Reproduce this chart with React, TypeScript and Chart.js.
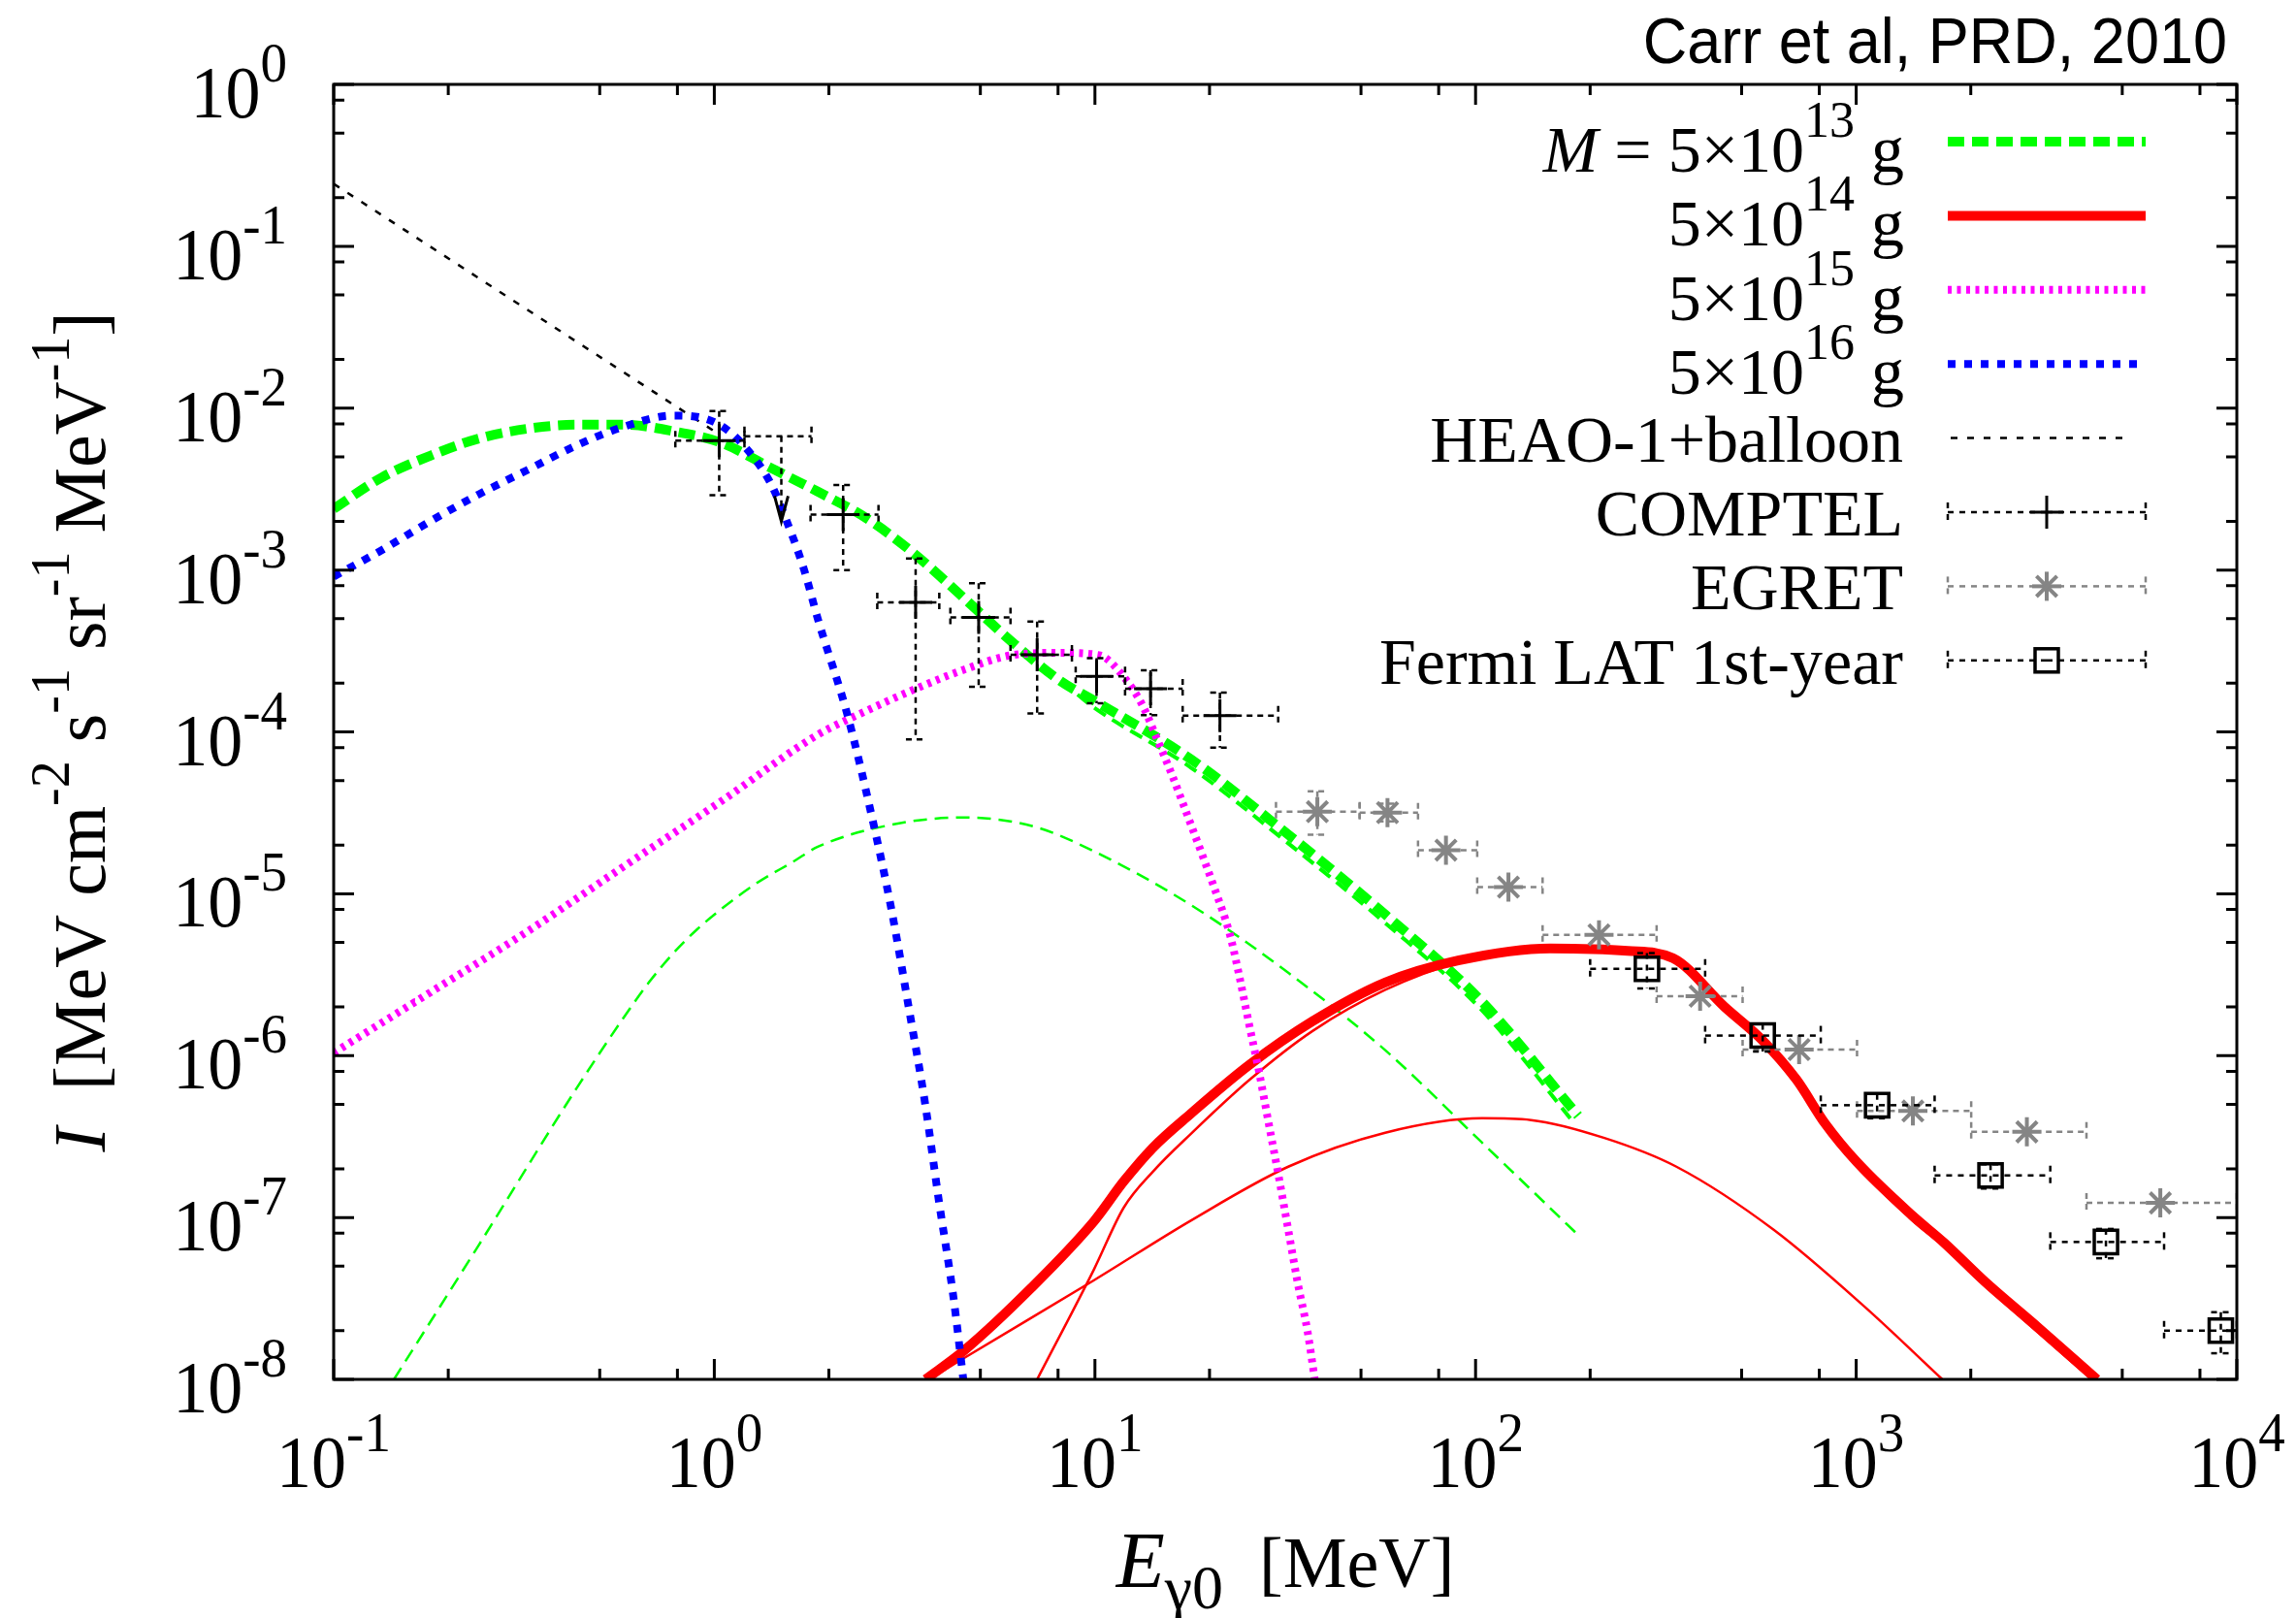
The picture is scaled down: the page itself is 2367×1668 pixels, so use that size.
import React, { useEffect, useRef } from "react";
import { Chart, registerables } from "chart.js";

Chart.register(...registerables);

const CANVAS_W = 2367;
const CANVAS_H = 1668;

// ---------------- axes ----------------
const xDecades = [0.1, 1, 10, 100, 1000, 10000];
const xExponents = ["-1", "0", "1", "2", "3", "4"];
const yDecades = [1, 1e-1, 1e-2, 1e-3, 1e-4, 1e-5, 1e-6, 1e-7, 1e-8];
const yExponents = ["0", "-1", "-2", "-3", "-4", "-5", "-6", "-7", "-8"];
const minorMantissas = [2, 5, 8];

// ---------------- model curves (E in MeV, I) ----------------
const heaoE = [0.1, 1.0];
const heaoI = [0.243, 0.0072];

// M = 5e13 g, total (thick green dashed)
const m13TotalE = [0.1, 0.134, 0.18, 0.241, 0.323, 0.433, 0.58, 0.78, 1.05, 1.4, 1.87, 2.51, 3.38, 4.53, 6.06, 8.1, 10, 17.9, 32.2, 57.9, 104, 186];
const m13TotalI = [2.39e-3, 3.74e-3, 5.1e-3, 6.5e-3, 7.46e-3, 7.9e-3, 7.9e-3, 7.2e-3, 6.07e-3, 4.3e-3, 3.05e-3, 2.09e-3, 1.24e-3, 6.7e-4, 3.59e-4, 2.07e-4, 1.55e-4, 6.76e-5, 2.32e-5, 7.44e-6, 2.15e-6, 4.25e-7];
// companion of the thick green curve
const m13TwinE = [9, 10, 17.9, 32.2, 57.9, 104, 182];
const m13TwinI = [1.7e-4, 1.4e-4, 6.0e-5, 2.05e-5, 6.6e-6, 1.9e-6, 3.8e-7];
// M = 5e13 g, secondary (thin green dashed)
const m13SecE = [0.144, 0.241, 0.433, 0.581, 0.673, 0.78, 0.903, 1.045, 1.29, 1.62, 1.87, 2.92, 4.52, 7.0, 9.98, 17.9, 32.2, 57.9, 104, 186];
const m13SecI = [1e-8, 6.8e-8, 6.2e-7, 1.75e-6, 2.83e-6, 4.29e-6, 6.05e-6, 8.08e-6, 1.16e-5, 1.59e-5, 1.95e-5, 2.67e-5, 2.96e-5, 2.58e-5, 1.82e-5, 8.5e-6, 3.25e-6, 1.08e-6, 2.9e-7, 7.8e-8];

// M = 5e14 g (red)
const m14TotalE = [3.59, 4.52, 6.8, 9.95, 11.9, 14.2, 17.9, 25.5, 37.3, 57.9, 90, 157, 251, 330, 451, 568, 697, 829, 1004, 1403, 1700, 2182, 3000, 4290];
const m14TotalI = [1e-8, 1.5e-8, 3.67e-8, 9.5e-8, 1.67e-7, 2.7e-7, 4.4e-7, 8.8e-7, 1.63e-6, 2.83e-6, 3.87e-6, 4.6e-6, 4.44e-6, 4.0e-6, 2.0e-6, 1.24e-6, 7.1e-7, 3.8e-7, 2.2e-7, 1.03e-7, 7.0e-8, 4.0e-8, 2.1e-8, 1.0e-8];
const m14AltE = [7.05, 9.95, 11.9, 14.2, 17.9, 25.5, 37.3, 57.9, 90, 157, 251, 330, 451, 568, 697, 829, 1004, 1403, 1700, 2182, 3000, 4150];
const m14AltI = [1e-8, 4.8e-8, 1.15e-7, 1.92e-7, 3.3e-7, 7.1e-7, 1.42e-6, 2.55e-6, 3.75e-6, 4.5e-6, 4.38e-6, 3.95e-6, 1.96e-6, 1.2e-6, 6.9e-7, 3.65e-7, 2.1e-7, 9.6e-8, 6.6e-8, 3.8e-8, 1.95e-8, 1.0e-8];
const m14SecE = [3.67, 4.4, 9.95, 17.9, 32.2, 57.9, 104, 140, 218, 337, 607, 1054, 1684];
const m14SecI = [1e-8, 1.3e-8, 4.1e-8, 9.6e-8, 2.06e-7, 3.34e-7, 4.1e-7, 4.0e-7, 3.1e-7, 2.06e-7, 8.4e-8, 2.8e-8, 1e-8];

// M = 5e15 g (magenta)
const m15E = [0.1, 0.18, 0.323, 0.58, 1.05, 1.87, 2.51, 3.37, 4.52, 6.06, 8.1, 10.25, 11.9, 13.35, 14.6, 15.9, 17.4, 19.0, 20.7, 22.6, 24.0, 25.4, 27.0, 28.6, 30.4, 32.2, 34.1, 36.2, 37.8];
const m15I = [1.04e-6, 2.47e-6, 5.85e-6, 1.48e-5, 3.77e-5, 9.6e-5, 1.35e-4, 1.84e-4, 2.42e-4, 2.98e-4, 3.08e-4, 2.98e-4, 2.19e-4, 1.45e-4, 8.9e-5, 5.5e-5, 3.16e-5, 1.82e-5, 1.05e-5, 5.65e-6, 3.03e-6, 1.57e-6, 7.9e-7, 3.83e-7, 1.79e-7, 8.4e-8, 3.94e-8, 1.97e-8, 1e-8];

// M = 5e16 g (blue)
const m16E = [0.1, 0.134, 0.18, 0.241, 0.323, 0.433, 0.58, 0.78, 0.93, 1.05, 1.18, 1.4, 1.55, 1.72, 1.87, 2.24, 2.58, 2.92, 3.24, 3.58, 3.89, 4.25, 4.51];
const m16I = [9.1e-4, 1.33e-3, 2.01e-3, 2.94e-3, 4.15e-3, 5.86e-3, 7.7e-3, 9.0e-3, 8.7e-3, 7.7e-3, 6.07e-3, 3.5e-3, 2.0e-3, 1.01e-3, 5.0e-4, 1.26e-4, 3.17e-5, 7.98e-6, 2.0e-6, 5.05e-7, 1.27e-7, 3.2e-8, 1.0e-8];

// ---------------- measurements ----------------
const comptelE = [1.03, 1.5, 2.18, 3.38, 4.95, 7.05, 10.1, 14.0, 21.3];
const comptelI = [6.3e-3, 6.7e-3, 2.2e-3, 6.3e-4, 5.1e-4, 3.0e-4, 2.2e-4, 1.85e-4, 1.26e-4];
const comptelElo = [0.79, 1.2, 1.79, 2.68, 4.17, 6.0, 8.9, 12.0, 17.0];
const comptelEhi = [1.2, 1.8, 2.7, 3.9, 6.0, 8.7, 12.0, 17.0, 30.3];
const comptelIlo = [2.9e-3, 2.0e-3, 1.0e-3, 9.0e-5, 1.9e-4, 1.3e-4, 1.5e-4, 1.27e-4, 8.0e-5];
const comptelIhi = [9.6e-3, 6.7e-3, 3.35e-3, 1.18e-3, 8.3e-4, 4.8e-4, 2.85e-4, 2.4e-4, 1.75e-4];
const comptelUpperLimit = [false, true, false, false, false, false, false, false, false];

const egretE = [38.4, 58.7, 83.6, 122, 211, 389, 708, 1409, 2808, 6295];
const egretI = [3.21e-5, 3.17e-5, 1.86e-5, 1.1e-5, 5.57e-6, 2.33e-6, 1.09e-6, 4.55e-7, 3.38e-7, 1.23e-7];
const egretElo = [29.9, 49.6, 70.6, 101, 150, 299, 503, 1005, 2005, 4027];
const egretEhi = [49.6, 70.6, 101, 150, 299, 503, 1005, 2005, 4027, 10000];
const egretIlo: (number | null)[] = [2.32e-5, 2.8e-5, null, null, null, null, null, null, null, null];
const egretIhi: (number | null)[] = [4.3e-5, 3.6e-5, null, null, null, null, null, null, null, null];

const fermiE = [282, 568, 1135, 2254, 4530, 9078];
const fermiI = [3.44e-6, 1.33e-6, 4.94e-7, 1.82e-7, 7.06e-8, 2.0e-8];
const fermiElo = [200, 401, 807, 1607, 3235, 6440];
const fermiEhi = [401, 807, 1607, 3235, 6440, 10000];
const fermiIlo = [2.6e-6, 1.06e-6, 4.1e-7, 1.51e-7, 5.6e-8, 1.45e-8];
const fermiIhi = [4.3e-6, 1.57e-6, 5.8e-7, 2.13e-7, 8.5e-8, 2.6e-8];

// ---------------- styles ----------------
const GREEN = "#00ff00";
const RED = "#ff0000";
const MAGENTA = "#ff00ff";
const BLUE = "#0000ff";
const GRAY = "#858585";
const SERIF = '"Liberation Serif", "Times New Roman", serif';
const SANS = '"Liberation Sans", Arial, sans-serif';

const styleGreenThick = { color: GREEN, width: 10, dash: [17, 8] };
const styleGreenTwin = { color: GREEN, width: 4, dash: [14, 8] };
const styleGreenThin = { color: GREEN, width: 2.5, dash: [14, 8] };
const styleRedThick = { color: RED, width: 10, dash: [] as number[] };
const styleRedThin = { color: RED, width: 2.5, dash: [] as number[] };
const styleMagenta = { color: MAGENTA, width: 8, dash: [4, 5.5] };
const styleBlue = { color: BLUE, width: 8, dash: [8, 9] };
const styleHeao = { color: "#000", width: 2.5, dash: [7, 10] };

type Seg = { t: string; font: string; dy?: number };

function segsWidth(ctx: CanvasRenderingContext2D, segs: Seg[]) {
  let w = 0;
  for (const s of segs) {
    ctx.font = s.font;
    w += ctx.measureText(s.t).width;
  }
  return w;
}

function drawSegs(ctx: CanvasRenderingContext2D, segs: Seg[], x: number, y: number, align: "left" | "center" | "right", sy = 1) {
  const w = segsWidth(ctx, segs);
  let cx = align === "left" ? x : align === "center" ? x - w / 2 : x - w;
  ctx.save();
  ctx.translate(0, y);
  ctx.scale(1, sy);
  ctx.textAlign = "left";
  ctx.textBaseline = "alphabetic";
  for (const s of segs) {
    ctx.font = s.font;
    ctx.fillText(s.t, cx, (s.dy || 0) / sy);
    cx += ctx.measureText(s.t).width;
  }
  ctx.restore();
}

const pts = (E: number[], I: number[]) => E.map((e, i) => ({ x: e, y: I[i] }));

type ErrSet = {
  E: number[]; I: number[]; Elo: number[]; Ehi: number[];
  Ilo: (number | null)[]; Ihi: (number | null)[]; ul?: boolean[];
  color: string; dash: number[]; width: number;
};

const errSets: Record<string, ErrSet> = {
  COMPTEL: { E: comptelE, I: comptelI, Elo: comptelElo, Ehi: comptelEhi, Ilo: comptelIlo, Ihi: comptelIhi, ul: comptelUpperLimit, color: "#000", dash: [6, 5], width: 2.5 },
  EGRET: { E: egretE, I: egretI, Elo: egretElo, Ehi: egretEhi, Ilo: egretIlo, Ihi: egretIhi, color: GRAY, dash: [6, 5], width: 2.5 },
  Fermi: { E: fermiE, I: fermiI, Elo: fermiElo, Ehi: fermiEhi, Ilo: fermiIlo, Ihi: fermiIhi, color: "#000", dash: [6, 6], width: 2.5 },
};

const CAP = 10;

function line(ctx: CanvasRenderingContext2D, x0: number, y0: number, x1: number, y1: number) {
  ctx.beginPath();
  ctx.moveTo(x0, y0);
  ctx.lineTo(x1, y1);
  ctx.stroke();
}

function drawErr(chart: any, s: ErrSet) {
  const { ctx, chartArea: a } = chart;
  const xs = chart.scales.x, ys = chart.scales.y;
  ctx.save();
  ctx.beginPath();
  ctx.rect(a.left, a.top, a.right - a.left, a.bottom - a.top);
  ctx.clip();
  ctx.strokeStyle = s.color;
  ctx.lineWidth = s.width;
  for (let i = 0; i < s.E.length; i++) {
    const x = xs.getPixelForValue(s.E[i]);
    const y = ys.getPixelForValue(s.I[i]);
    const xl = xs.getPixelForValue(s.Elo[i]);
    const xr = xs.getPixelForValue(s.Ehi[i]);
    ctx.setLineDash(s.dash);
    line(ctx, xl, y, xr, y);
    line(ctx, xl, y - CAP, xl, y + CAP);
    line(ctx, xr, y - CAP, xr, y + CAP);
    const lo = s.Ilo[i], hi = s.Ihi[i];
    if (s.ul && s.ul[i] && lo != null) {
      const yt = ys.getPixelForValue(lo);
      line(ctx, x, y, x, yt);
      ctx.setLineDash([]);
      ctx.lineWidth = 3;
      ctx.beginPath();
      ctx.moveTo(x - 7, yt - 26);
      ctx.lineTo(x, yt);
      ctx.lineTo(x + 7, yt - 26);
      ctx.stroke();
      ctx.lineWidth = s.width;
    } else if (lo != null && hi != null) {
      const yl = ys.getPixelForValue(lo);
      const yh = ys.getPixelForValue(hi);
      line(ctx, x, yh, x, yl);
      line(ctx, x - CAP, yh, x + CAP, yh);
      line(ctx, x - CAP, yl, x + CAP, yl);
    }
  }
  ctx.restore();
}

function drawMarker(ctx: CanvasRenderingContext2D, kind: string, x: number, y: number) {
  ctx.save();
  ctx.setLineDash([]);
  if (kind === "plus") {
    ctx.strokeStyle = "#000"; ctx.lineWidth = 3;
    line(ctx, x - 17, y, x + 17, y);
    line(ctx, x, y - 17, x, y + 17);
  } else if (kind === "star") {
    ctx.strokeStyle = GRAY; ctx.lineWidth = 4;
    line(ctx, x - 15, y, x + 15, y);
    line(ctx, x, y - 15, x, y + 15);
    line(ctx, x - 10.6, y - 10.6, x + 10.6, y + 10.6);
    line(ctx, x - 10.6, y + 10.6, x + 10.6, y - 10.6);
  } else {
    ctx.strokeStyle = "#000"; ctx.lineWidth = 3.5;
    ctx.strokeRect(x - 12, y - 12, 24, 24);
  }
  ctx.restore();
}

const LEG_X0 = 2008;
const LEG_X1 = 2212;
const LEG_TEXT_R = 1963;
const LEG_Y0 = 146;
const LEG_DY = 76.4;

function legendSample(ctx: CanvasRenderingContext2D, y: number, st: { color: string; width: number; dash: number[] }) {
  ctx.save();
  ctx.strokeStyle = st.color;
  ctx.lineWidth = st.width;
  ctx.setLineDash(st.dash);
  line(ctx, LEG_X0, y, LEG_X1, y);
  ctx.restore();
}

function legendErr(ctx: CanvasRenderingContext2D, y: number, color: string, marker: string) {
  ctx.save();
  ctx.strokeStyle = color;
  ctx.lineWidth = 2.5;
  ctx.setLineDash([6, 6]);
  const xm = (LEG_X0 + LEG_X1) / 2;
  line(ctx, LEG_X0, y, xm, y);
  line(ctx, xm, y, LEG_X1, y);
  line(ctx, LEG_X0, y - CAP, LEG_X0, y + CAP);
  line(ctx, LEG_X1, y - CAP, LEG_X1, y + CAP);
  ctx.restore();
  drawMarker(ctx, marker, xm, y);
}

const gnuplotLook = {
  id: "gnuplotLook",
  beforeDatasetDraw(chart: any, args: any) {
    const ds = chart.data.datasets[args.index];
    const set = errSets[ds.label];
    if (set) drawErr(chart, set);
  },
  afterDraw(chart: any) {
    const { ctx, chartArea: a } = chart;
    const xs = chart.scales.x, ys = chart.scales.y;
    ctx.save();
    ctx.setLineDash([]);
    ctx.strokeStyle = "#000";
    ctx.fillStyle = "#000";
    ctx.lineWidth = 3;
    ctx.strokeRect(a.left, a.top, a.right - a.left, a.bottom - a.top);

    // ticks
    const MAJ = 21, MIN = 11;
    ctx.beginPath();
    xDecades.forEach((d, k) => {
      const px = xs.getPixelForValue(d);
      ctx.moveTo(px, a.bottom); ctx.lineTo(px, a.bottom - MAJ);
      ctx.moveTo(px, a.top); ctx.lineTo(px, a.top + MAJ);
      if (k < xDecades.length - 1) {
        minorMantissas.forEach((m) => {
          const q = xs.getPixelForValue(d * m);
          ctx.moveTo(q, a.bottom); ctx.lineTo(q, a.bottom - MIN);
          ctx.moveTo(q, a.top); ctx.lineTo(q, a.top + MIN);
        });
      }
    });
    yDecades.forEach((d, k) => {
      const py = ys.getPixelForValue(d);
      ctx.moveTo(a.left, py); ctx.lineTo(a.left + MAJ, py);
      ctx.moveTo(a.right, py); ctx.lineTo(a.right - MAJ, py);
      if (k > 0) {
        minorMantissas.forEach((m) => {
          const q = ys.getPixelForValue(d * m);
          ctx.moveTo(a.left, q); ctx.lineTo(a.left + MIN, q);
          ctx.moveTo(a.right, q); ctx.lineTo(a.right - MIN, q);
        });
      }
    });
    ctx.stroke();

    // tick labels
    const big = `72px ${SERIF}`;
    const sup = `55px ${SERIF}`;
    xDecades.forEach((d, k) => {
      drawSegs(ctx, [{ t: "10", font: big }, { t: xExponents[k], font: sup, dy: -37 }], xs.getPixelForValue(d), a.bottom + 111, "center", 1.05);
    });
    yDecades.forEach((d, k) => {
      drawSegs(ctx, [{ t: "10", font: big }, { t: yExponents[k], font: sup, dy: -37 }], 296, ys.getPixelForValue(d) + 34, "right", 1.05);
    });

    // x title
    drawSegs(ctx, [
      { t: "E", font: `italic 82px ${SERIF}` },
      { t: "γ0", font: `64px ${SERIF}`, dy: 22 },
      { t: "  [MeV]", font: `74px ${SERIF}` },
    ], (a.left + a.right) / 2, 1636, "center");

    // y title (rotated)
    ctx.save();
    ctx.translate(108, (a.top + a.bottom) / 2);
    ctx.rotate(-Math.PI / 2);
    drawSegs(ctx, [
      { t: "I", font: `italic 76px ${SERIF}` },
      { t: "  [MeV cm", font: `76px ${SERIF}` },
      { t: "-2", font: `56px ${SERIF}`, dy: -37 },
      { t: " s", font: `76px ${SERIF}` },
      { t: "-1", font: `56px ${SERIF}`, dy: -37 },
      { t: " sr", font: `76px ${SERIF}` },
      { t: "-1", font: `56px ${SERIF}`, dy: -37 },
      { t: " MeV", font: `76px ${SERIF}` },
      { t: "-1", font: `56px ${SERIF}`, dy: -37 },
      { t: "]", font: `76px ${SERIF}` },
    ], 0, 0, "center");
    ctx.restore();

    // legend
    const lf = `68px ${SERIF}`;
    const ls = `52px ${SERIF}`;
    const massExps = ["13", "14", "15", "16"];
    const massStyles = [styleGreenThick, styleRedThick, styleMagenta, styleBlue];
    massExps.forEach((ex, i) => {
      const y = LEG_Y0 + LEG_DY * i;
      const segs: Seg[] = [];
      if (i === 0) {
        segs.push({ t: "M", font: `italic 68px ${SERIF}` });
        segs.push({ t: " = 5×10", font: lf });
      } else {
        segs.push({ t: "5×10", font: lf });
      }
      segs.push({ t: ex, font: ls, dy: -36 });
      segs.push({ t: " g", font: lf });
      drawSegs(ctx, segs, LEG_TEXT_R, y + 31, "right");
      legendSample(ctx, y, massStyles[i]);
    });
    const dataLabels = ["HEAO-1+balloon", "COMPTEL", "EGRET", "Fermi LAT 1st-year"];
    dataLabels.forEach((lab, j) => {
      const y = LEG_Y0 + LEG_DY * (4 + j);
      drawSegs(ctx, [{ t: lab, font: lf }], LEG_TEXT_R - 1, y + 24, "right");
    });
    {
      const y = LEG_Y0 + LEG_DY * 4;
      ctx.save();
      ctx.strokeStyle = "#000"; ctx.lineWidth = 2.5; ctx.setLineDash([7, 10]);
      line(ctx, 2011, y, 2198, y);
      ctx.restore();
    }
    legendErr(ctx, LEG_Y0 + LEG_DY * 5, "#000", "plus");
    legendErr(ctx, LEG_Y0 + LEG_DY * 6, GRAY, "star");
    legendErr(ctx, LEG_Y0 + LEG_DY * 7, "#000", "square");

    // credit
    drawSegs(ctx, [{ t: "Carr et al, PRD, 2010", font: `63px ${SANS}` }], 2296, 65, "right", 1.05);
    ctx.restore();
  },
};

function curve(label: string, E: number[], I: number[], st: { color: string; width: number; dash: number[] }, order: number) {
  return {
    label,
    data: pts(E, I),
    showLine: true,
    borderColor: st.color,
    borderWidth: st.width,
    borderDash: st.dash,
    borderJoinStyle: "round" as const,
    pointRadius: 0,
    cubicInterpolationMode: "monotone" as const,
    clip: 0,
    order,
  };
}

function markers(label: string, E: number[], I: number[], style: string, radius: number, color: string, width: number, skip?: boolean[]) {
  const data = E.map((e, i) => ({ x: e, y: skip && skip[i] ? NaN : I[i] })).filter((p) => !isNaN(p.y));
  return {
    label,
    data,
    showLine: false,
    pointStyle: style,
    pointRadius: radius,
    pointBorderColor: color,
    pointBackgroundColor: "rgba(0,0,0,0)",
    pointBorderWidth: width,
    borderColor: color,
    clip: 0,
    order: 0,
  };
}

export default function App() {
  const ref = useRef<HTMLCanvasElement>(null);
  useEffect(() => {
    const canvas = ref.current!;
    const chart = new Chart(canvas, {
      type: "scatter",
      data: {
        datasets: [
          markers("Fermi", fermiE, fermiI, "rect", 17, "#000", 3.5),
          markers("EGRET", egretE, egretI, "star", 15, GRAY, 4),
          markers("COMPTEL", comptelE, comptelI, "cross", 17, "#000", 3, comptelUpperLimit),
          curve("M16", m16E, m16I, styleBlue, 1),
          curve("M15", m15E, m15I, styleMagenta, 2),
          curve("M14", m14TotalE, m14TotalI, styleRedThick, 3),
          curve("M14alt", m14AltE, m14AltI, styleRedThin, 4),
          curve("M14sec", m14SecE, m14SecI, styleRedThin, 4),
          curve("M13", m13TotalE, m13TotalI, styleGreenThick, 5),
          curve("M13twin", m13TwinE, m13TwinI, styleGreenTwin, 6),
          curve("M13sec", m13SecE, m13SecI, styleGreenThin, 6),
          curve("HEAO", heaoE, heaoI, styleHeao, 7),
        ] as any,
      },
      options: {
        animation: false,
        responsive: false,
        devicePixelRatio: 1,
        events: [],
        layout: { padding: { left: 344, top: 87, right: CANVAS_W - 2306, bottom: CANVAS_H - 1422 } },
        scales: {
          x: {
            type: "logarithmic", min: 0.1, max: 10000,
            ticks: { display: false }, grid: { display: false }, border: { display: false },
            afterFit: (s: any) => { s.height = 0; },
          },
          y: {
            type: "logarithmic", min: 1e-8, max: 1,
            ticks: { display: false }, grid: { display: false }, border: { display: false },
            afterFit: (s: any) => { s.width = 0; },
          },
        },
        plugins: { legend: { display: false }, tooltip: { enabled: false } },
      } as any,
      plugins: [gnuplotLook],
    });
    return () => chart.destroy();
  }, []);
  return (
    <div style={{ position: "absolute", left: 0, top: 0, width: CANVAS_W, height: CANVAS_H, background: "#fff" }}>
      <canvas ref={ref} width={CANVAS_W} height={CANVAS_H} style={{ display: "block", width: CANVAS_W, height: CANVAS_H }} />
    </div>
  );
}
